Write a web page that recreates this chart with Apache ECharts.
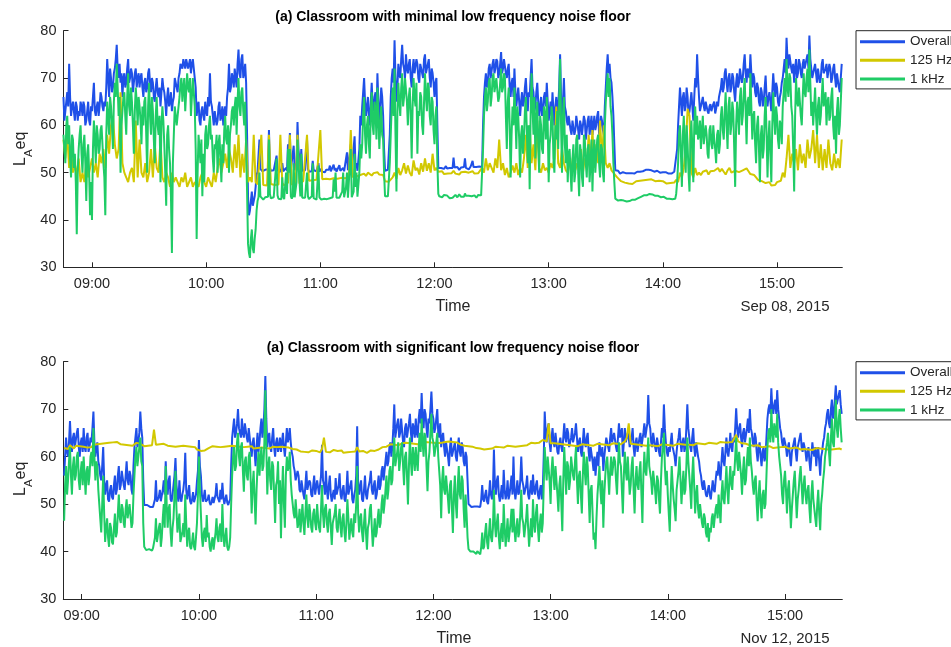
<!DOCTYPE html>
<html><head><meta charset="utf-8">
<script src="https://cdn.jsdelivr.net/npm/echarts@6/dist/echarts.min.js"></script>
<style>html,body{margin:0;padding:0;background:#fff}#c{width:951px;height:647px}</style>
</head><body><div id="c"></div>
<script>
// ---- time base (minutes since midnight) ----
const topStart = 525;      // 08:45
const bottomStart = 531;   // 08:51
const stepFine = 0.5;      // Overall and 1 kHz: one reading every 30 s
const stepCoarse = 1;      // 125 Hz: one reading per minute
const topRange = [525.03, 934.3];
const bottomRange = [530.58, 929.32];
const hourTicks = [540, 600, 660, 720, 780, 840, 900];
const yTicks = [30, 40, 50, 60, 70, 80];
const seriesNames = ['Overall', '125 Hz', '1 kHz'];
const titles = ['(a) Classroom with minimal low frequency noise floor', '(a) Classroom with significant low frequency noise floor'];
const dates = ['Sep 08, 2015', 'Nov 12, 2015'];

// ---- top: Sep 08, 2015 ----
const topOverall = [
66,61,63,65,67,64,73,66,62,64,65,63,61,65,64,61,63,62,65,64,
62,65,64,60,61,63,65,61,60,64,63,66,69,63,62,64,65,62,64,67,
66,64,63,65,64,68,74,70,66,72,70,67,68,71,72,74,77,72,70,73,
69,71,66,70,71,68,69,72,74,69,70,72,71,67,69,71,72,68,70,71,
68,70,71,68,66,69,70,67,68,71,72,69,67,70,69,66,65,68,70,67,
66,68,64,67,70,68,67,65,62,66,68,64,65,67,63,65,66,70,69,68,
67,70,71,73,73,72,74,73,72,74,74,72,73,74,71,73,74,72,72,68,
62,64,65,61,60,63,64,62,61,65,63,62,66,64,71,65,64,62,60,63,
63,60,61,64,65,61,62,64,60,63,64,62,66,68,73,67,68,71,70,68,
72,70,68,73,76,71,70,74,75,70,71,73,69,58,45,41,42,44,46,43,
44,45,47,49.5,50.2,50.5,57,50.8,50.5,50.3,50.1,50.4,50.6,50.2,50.3,50.7,59,51,50.4,50.1,
50.2,50.5,50.7,50.4,53.6,50.6,50.3,50.1,50.5,50.8,52,50.3,50.2,50.5,51,50.4,56,52,58.4,50.6,
50.3,51,55.7,50.5,50.4,52,60.7,55,53,50.6,55,50.4,50.3,50.6,50.5,50.2,57,50.8,50.2,50.5,
50.6,50.3,52.5,50.5,50.4,50.7,50.3,50.4,52,50.2,50.5,50.8,50.2,50.5,50.4,50.1,50.6,50.4,50.3,50.6,
51.5,50.3,50.4,50.6,51.7,50.5,51,50.2,50.3,50.6,51.6,50.4,50.4,50.7,51,50.3,50.3,50.6,54.3,50.5,
50.5,50.8,56,50.3,50.4,50.6,57.7,51,52,50.4,50.6,55,62,60,64,67,70,65,62,64,
66,62,60,65,69,64,63,66,67,62,71,65,61,64,68,66,62,55,50.4,50.7,
50.2,50.6,50.5,58,66,70,72,69,78,70,65,68,73,71,70,74,77,73,72,70,
75,72,71,73,74,70,68,72,74,71,71,74,73,70,69,73,72,71,70,74,
75,71,72,73,74,70,68,72,71,69,66,69,70,60,51,50.8,50.6,51,51.2,50.7,
50.8,51.1,51.4,50.9,50.7,51.2,51,50.8,51.3,51,53.2,51.1,50.9,51.3,51.2,50.8,50.6,51,51.1,50.9,
50.8,51.2,53,51,51,50.8,50.7,51.1,51.3,50.9,52.5,51.2,51,50.8,51.2,51,50.8,51.3,51,50.9,
51.2,60,66,69,71,68,69,72,73,70,70,73,74,71,72,74,73.5,70,71,73,
75.5,71,72,74,74,71,70,72,73,68,66,69,70,66,72,67,64,66,68,65,
62,65,67,64,65,68,70,66,63,67,66,70,74,68,67,63,64,67,69,65,
62,64,66,62,63,66,67,64,69,65,61,63,65,62,67,63,60,64,66,62,
64,68,75,66,62,65,70,64,63,61,60,62,62,59,58,61,61,58,59,62,
62,59,57,61,60,58,58,62,61,57,59,61,62,58,60,62,58,60,62,59,
60,62,63,58,59,62,61,59,58,64,68,72,75,71,73,70,69,66,62,56,
50.5,50.3,50.2,50.4,50,49.8,49.8,50,50.1,49.9,49.7,49.9,49.6,49.8,49.9,49.6,49.7,49.9,50,49.8,
49.8,50,50.1,50.2,50.3,50.1,50.2,50.4,50.5,50.3,50.3,50.5,50.6,50.4,50.4,50.6,50.2,50.3,50.5,50.2,
50.3,50.2,50.1,50.3,50.4,50.1,50.2,50,49.9,50.2,50.1,50.3,50.3,50.1,50,49.9,49.8,50,50.1,49.8,
49.9,50.1,50.2,50,50.5,55,60,64,68,65,62,66,67,63,64,68,66,62,63,65,
67,64,61,66,70,68,75,70,66,63,64,65,66,64,63,65,65,63,62.5,64,
64.5,63,63,64.5,65,62.5,63.5,65,64,66,66,68,70,67,68,71,72,69,67,70,
71,67,68,71,70,67,65,69,71,68,69,72,72,69,70,73,75,71,69,72,
72,70,75,71,68,71,70,67,66,69,68,65,64,68,67,64,65,68,70.5,66,
64,66,67,65,63,67,71,68,66,69,68,65,64,66,67,69,70,72,74,71,
78.5,74,72,75,75,72,71,73,69,72,74,70,71,74,73,71,70,73,74,72,
72,74,75,72,79,74,72,70,70,72,73,71,69,72,72,69,70,73,74,71,
71,72,73,70,70,73,72,69,70,72,73,70,68,71,71,68,67,70,73
];
const top125Hz = [
57,53,58,51,55,50,52,49,53,48,
50,48,52,49,51,53,50,52,49,54,
52,55,51,58,54,60,62,56,53,55,
67,52,50,49,48,50,51,48,61,49,
57,50,49,52,48,50,55,49,56,51,
50,57,49,48,50,49,47,50,48,49,
48,47,49,48,50,47,48,49,47,48,
48,47,49,50,48,47,49,48,47,50,
48,51,53,50,52,54,51,55,53,50,
56,51,58,49,54,50,57,48,49,48,
58,48,47.5,47.8,58,47.4,47.7,47.3,58,47.6,
47.8,47.4,47.7,47.5,58,47.8,47.3,47.6,47.9,58,
47.5,47.8,47.4,58,47.7,48,48.2,48.5,58,48.3,
48.6,48.4,48.7,48.5,48.8,59,48.6,48.9,48.7,48.9,
48.6,49,48.8,49,48.7,49.1,48.9,49,48.8,49.2,
49,59,49.1,48.9,49.2,49,49.5,49.5,49.8,49.3,
50,49.6,49.4,49.9,49.5,50.1,49.6,49.8,49.5,48.2,
47.9,48.1,48.5,49,50,48.7,51,49.5,50.5,52,
49.8,51.5,50,49.3,52.6,50.5,51,49.6,52,50.2,
53,50.4,52,50,54,50.5,51,50.2,49.9,50.3,
49.7,50.1,49.8,50.2,49.9,50.4,49.8,50,49.6,50.1,
49.7,50.2,49.9,50,49.7,50.3,49.8,50.1,49.9,50,
51,50,53,50.5,52,51,50,53,51,57,
50.5,52,49.5,51,49,50,51.5,50,52,49.5,
51,50,53,58,51,60,52,56,50.5,61,
51,50,52,50.5,51,50,52,51,53,64,
52,51,55,52,50.5,50,52,51,54,50.5,
52,51,55,50,53,51,58,52,59,51,
56,52,61,53,60,52,51,52,50.5,50,
49.5,49,48.6,48.2,48.4,47.9,48.1,47.7,48,47.6,
47.8,48.2,48.5,48.3,48.6,48.4,48.7,48.5,48.3,48.6,
48.4,48.2,48.5,48.3,48,48.2,47.9,47.7,47.5,47.8,
47.6,47.9,48.5,48,50,49,51,55,63.5,62,
50,49,51,49.5,50,49.5,50.2,49.8,50.5,49.6,
50.3,49.9,50.4,50,51,50.2,50.8,50.2,49.6,50.5,
51,50,49.7,50.4,50.8,50.1,49.8,50.5,50.2,50.9,
50.3,49.7,50.1,49.5,49,48.5,48.8,48.2,48.6,47.8,
47.5,48,47.3,47.7,47.4,48,47.6,48.3,50,49,
53,58,51,54,52,55,50.5,56,52,54,
51,57,53,55,59,52,58,51,56,50.5,
55,51,57,52,50.5,54,51,53,51,57
];
const top1kHz = [
58,55,52,60,62,56,60,53,49,58,57,51,54,48,37,50,55,58,60,54,
50,56,58,52,44,54,56,50,41,48,40,55,61,57,52,60,58,54,55,59,
60,56,52,49,41,58,65,62,58,66,64,60,55,65,69,66,73,68,62,66,
50,60,63,66,67,62,58,66,71,64,62,68,65,60,54,63,68,65,60,66,
64,61,56,64,60,65,66,58,50,64,69,62,58,66,63,57,52,62,66,60,
58,62,48,60,64,61,56,50,43,58,60,55,52,45,33,52,58,64,62,60,
60,64,66,69,70,65,68,70,63,67,71,68,67,70,62,66,70,67,64,55,
36,50,58,55,52,57,45,54,48,58,60,55,56,60,62,57,58,53,50,56,
55,58,50,56,58,53,48,56,52,59,62,57,56,60,50,58,60,63,64,60,
64,66,58,65,70,64,62,67,68,63,60,65,55,46,35,33,32,36,38,34,
33,36,38,42,44,44.8,50,45,44.6,44.9,44.3,44.6,44.8,44.4,44.5,44.9,57,45.5,44.6,44.3,
44.4,44.8,45,44.6,53,45.2,44.5,44.8,44.7,44.4,49,45,44.4,44.7,50,45.5,55,50,55,45,
44.5,45,52,44.8,44.6,48,57,52,52,45,54,44.7,44.5,44.9,44.7,44.4,50,45,44.4,44.8,
44.8,45,52,44.6,44.5,44.8,44.3,44.6,51.5,44.8,44.6,44.3,44.4,44.7,44.5,44.9,44.7,44.4,44.3,44.6,
44.6,44.4,44.5,44.8,48.6,46,50,44.7,44.4,44.6,44.7,44.4,44.5,46,50,44.8,44.6,47,50,44.7,
44.5,45,55,44.8,44.7,46,54,47,50,44.9,44.8,50,56,53,56,62,66,58,54,60,
62,56,53,63,67,60,58,65,63,57,68,62,55,60,64,58,57,50,45,45.2,
44.7,45,45.1,52,58,64,68,62,72,58,46,63,69,65,62,68,71,64,66,70,
70,65,60,66,68,62,53,64,70,66,64,69,54,63,62,67,66,60,58,65,
71,66,63,69,68,62,60,66,65,59,56,62,64,52,45.5,45,45.2,44.9,44.8,45.2,
45.3,45,44.9,45.2,45.1,44.8,44.6,45,45,44.7,44.7,45.1,45.3,44.9,44.8,45.2,45.4,45,44.9,45.3,
45.2,44.9,45.6,45.1,44.8,45.2,45.1,44.8,45.4,45,44.9,45.3,45.2,44.8,44.7,45.1,45.3,44.9,45,45.2,
45.4,55,62,66,68,63,65,69,70,64,66,70,71,67,67,70,70,65,66,69,
72,67,68,71,70,62,55,65,68,60,49,58,64,60,68,62,55,64,62,57,
49,58,60,54,57,63,66,59,52,60,46.5,62,71,64,58,66,53,61,65,56,
50,62,60,55,54,64,62,57,66,60,48,56,58,64,62,53,50,60,57,63,
55,65,74,60,50,62,66,56,52,58,48,54,55,50,46,53,56,48,50,57,
58,50,45,56,54,49,47,58,57,52,49,55,56,48,52,57,46,54,57,50,
50,57,58,52,49,56,55,50,48,60,65,68,71,66,70,64,62,58,52,48,
44.5,44.2,44.3,44.1,44,44.3,44.2,43.9,43.8,44.1,44.1,43.8,43.9,44.2,44.2,44,44,44.3,44.3,44,
44.1,44.3,44.4,44.5,44.6,44.7,44.8,44.9,45,45.1,45.2,45.3,45.4,45.2,45.3,45.5,45.5,45.3,45.2,45.4,
45.4,45.2,45.1,45.3,45.3,45.1,45,44.9,44.8,45,45.1,44.9,44.7,44.6,44.5,44.4,44.3,44.5,44.6,44.4,
44.4,44.6,44.7,44.5,45.5,48,52,58,60,54,47,58,62,56,50,60,56,50,46,57,
61,55,48,60,64,58,62,57,58,61,55,59,62,56,56,60,58,54,53,59,
60,56,55,60,57,55,52,58,59,54,56,62,64,59,57,63,67,60,55,64,
66,58,60,65,63,55,47,60,65,62,58,66,68,60,62,67,70,63,56,65,
66,62,71,64,57,62,63,56,52,60,62,55,48,58,60,53,55,62,66,58,
49,57,61,54,48,60,67,62,58,64,62,57,55,61,60,56,64,67,70,65,
74,68,66,71,70,64,62,55,46,62,70,65,64,68,68,62,60,66,71,67,
66,70,72,67,76,69,62,65,60,64,68,62,58,64,66,60,62,66,70,64,
64,67,60,65,66,61,62,66,68,60,57,62,54,63,66,58,60,65,70
];

// ---- bottom: Nov 12, 2015 ----
const bottomOverall = [
56,60,64,61,60,63,67.5,63,61,64,65,62,62,65,66,62,60,63,64,61,
66,62,61,64,65,61,62,64,63,66,69.5,63,60,62,63,59,58,56,55,58,
62,55,52,54,55,51,50.5,53,54,51.5,51,54,56,52,53,56,58,53,54,57,
57,54,53,56,59,55,54,57,56,53,52,58,62,64,66,62,63,65,69.5,66,
64,55,49.8,49.6,49.5,49.8,49.7,49.5,49.4,49.7,49.6,49.4,49.5,51,55,50.5,50.2,51.5,53,50.6,
51,53,55,52,59,54,52,55,56,51,50.5,52,54,56,59.7,54,52,50.5,55,51.5,
50.5,52,53,55,60.8,53,51,52.5,54,50.6,50,51,52.5,50.4,50.3,52,54.8,57,63.5,58,
56,52,50.5,51.5,53,50.5,50.2,51,52,50.3,49.8,50.5,51.5,50.2,50,52,54.4,51.5,51,50.4,
53,51,54.5,51.5,50,51,52,50.3,49.8,50.5,51,58,64,66,68,64,65,67,70,66,
66,64,68,65,64,67,67,64,63,66,66,62,60,63,64,61,58,62,65,61,
63,66,68,64,66,70,77,68,62,64,65,62,61,64,66,62,60,63,64,61,
62,64,61,63,65,62,60,63,66,63,64,66,63,61,60,58,57,55,55,57,
56,53,52.5,55,55,52,51,54,57,53,53,55,54.5,52,51.5,54,56,52,52,55,
55,52,52,56,62.5,55,54,52,57,53,51,54,56,52,50.5,52,53,51,55.5,52,
52,54,56.5,52,51,53,54,51,50.5,53,57,52,52,54,55,51,50.2,52,53,56,
66.4,54,52,54,55,51,50.5,53,56,52,51,53,53,55,57,53,52,54,55,51,
52,54,56,53,54,57,58,55,57,59,61,58,59,62,63,60,62,66,71,64,
64,67,68,64,65,68,68,63,62,66,67,64,64,67,69,65,63,67,66,64,
68,65,64,68,70,67,73.4,68,66,70,69,66,64,68,67,70,73.7,69,68,65,
66,68,70,65,64,67,62,64,65,62,60,63,63,60,58,62,64,60,61,62,
63,60,59,62,64,61,60,63,62,59,58,61,60,55,50,49.7,49.6,49.4,49.3,49.6,
49.5,49.3,49.2,49.5,49.6,49.3,49.4,51,54,51,50.5,52,53,50.5,50,52,55,52,51,53,
61.5,54,52,55,56,52,50.5,52,54,51,57.2,53,51,52,55,51,52,54,56,52,
60,53,51,53,55,52,52.5,55,60,55,54,52,52,54,56,52,51,53,55,52,
56.2,53,52,54,55,52,51,53,54,51,53,60,69.5,65,63,66,67,63,61,64,
66,63,62,65,65,61,60.5,63,64,62,61,64,67,64,63,66,65,62,62,64,
66,63,63,65,67,64,61,63,64,61,60,63,66,63,62,64,65,61,59,62,
62,59,57,60,56,59,61,58,63,61,60,62,57,60,62,64,64,62,61,64,
66,63,63,65,65,62,61,64,67,64,64,66,60,63,66,63,63,65,64,62,
62,64,66,62,60,63,64,61,61,64,65,62,62,65,67,64,64,67,73,67,
66,63,62,65,65,62,61,64,64,61,60,63,66,64,71,66,63,61,60,62,
61,63,65,62,62,60,58,61,63,64,66,63,61,63,64,61,62,66,71,66,
64,62,61,64,66,62,60,63,63,60,59,57,56,54,53,55,55,52,51.5,53,
54,52,51,53,55,53,52.5,55,57,56,59,57,55,59,62,59,58,61,64,61,
60,62,65,62,61,64,63,66,70.2,66,64,66,67,64,62,65,66,63,63,66,
68,65,70,66,65,63,62,65,64,61,59,62,63,60,58,61,62,59,60,64,
68,70,71,69,74.4,70,69,71,72,69,74,70,68,66,65,63,62,64,64,62,
60,62,63,60,58,61,61,63,64,61,59,62,62,64,65,62,61,63,63,61,
59,61,62,59,57,60,63,61,60,62,58,61,62,59,56,60,61,63,64,66,
67,69,70,67,66,70,72,68,69,72,75,71,71,73,74,71,69
];
const bottom125Hz = [
61.8,62.2,61.6,62.4,62,61.7,62.3,61.9,62.2,61.8,
62.1,62.4,61.9,62.3,62,62.5,62.2,62.6,62.3,62.7,
62.4,62.8,62.5,62.9,62.6,63,62.7,63.1,62.8,62.6,
62.9,62.5,62.8,62.4,62.7,62.3,62.6,62.9,62.5,62.7,
62.4,62.2,62.5,62.3,62.6,62.4,65.7,62.5,62.3,62.6,
62.4,62.7,62.5,62.3,62.6,62.2,62.5,62.1,62.4,62.2,
62,62.3,61.9,62.2,61.8,62.1,61.7,62,61.5,61.8,
61.2,61,61.3,61.5,61.8,62,62.2,61.9,62.1,61.8,
62,62.3,62.1,62.4,62.2,62,62.3,62.5,62.2,62.4,
62.1,62.3,62,61.8,62.1,61.9,62.2,61.7,62,61.8,
62,61.9,62.2,61.8,62,61.7,61.9,62.1,61.8,62,
61.9,62.1,61.8,62,61.7,61.9,62.3,61.6,61.8,61.5,
61.3,61.1,61.4,61,61.2,60.9,61.1,61.3,61,61.2,
61.1,60.9,61.6,64,61,61.3,60.9,61.1,61.4,61,
61.2,61,61.3,60.8,61.1,60.9,61.2,61,60.8,61.1,
62,61.1,60.9,61.2,61,60.8,61.1,61.3,61,61.2,
61.3,61.5,61.8,62,62.3,62.1,62.4,62.6,62.3,62.5,
62.7,62.4,62.6,62.8,62.5,62.9,62.6,62.8,62.5,62.7,
62.9,62.6,62.8,63,62.7,63.1,62.8,63,62.7,62.9,
63,62.8,63.2,62.9,63.3,63.1,63.4,63.2,63.5,63.1,
63.3,63,62.8,62.5,62.7,62.3,62.5,62.2,62.4,62.1,
62,61.8,62.1,61.7,61.9,61.5,61.8,61.6,61.9,61.7,
61.9,62.1,61.8,62,62.2,61.9,62.1,62.3,62,62.2,
62.3,62.1,62.4,62.2,62.5,62.3,62.6,62.4,62.7,62.9,
63,62.8,63.1,62.9,63.3,63.5,63.9,63.2,67,62.8,
62.6,62.8,62.5,62.7,62.4,62.6,62.3,62.5,62.7,62.4,
62.6,62.3,62.5,62.2,62.4,62.6,62.3,62.5,62.2,62.4,
62.6,62.3,62.5,62.7,62.4,62.6,62.8,62.5,62.7,62.4,
62.6,62.8,62.5,62.7,62.4,62.6,62.9,63.2,64,67,
62.7,62.4,62.6,62.3,62.5,62.7,62.4,62.6,62.3,62.5,
62.4,62.6,62.3,62.5,62.2,62.4,62.6,62.3,62.5,62.2,
62.4,62.6,62.3,62.5,62.7,62.4,62.6,62.8,62.5,62.7,
62.5,62.7,62.4,62.6,62.8,62.5,62.7,62.9,62.6,62.8,
62.9,62.6,62.8,63,62.7,62.9,63.1,62.8,63,63.2,
63,63.3,63.1,63.4,64.6,63.2,63,62.8,62.9,62.7,
62.6,62.4,62.5,62.3,62.1,62.4,62.2,62,62.3,62.1,
61.9,62.2,62,61.8,62.1,61.9,62.2,62,61.8,62.1,
61.9,61.7,62,61.8,61.6,61.9,61.7,61.5,61.8,61.6,
61.8,61.5,61.7,61.4,61.6,61.8,61.5,61.7,61.4,61.6,
61.8,61.5,61.7,61.5,61.8,61.6,61.4,61.7,61.5
];
const bottom1kHz = [
46.5,54,58,52,55,59,62,56,52,58,60,55,56,60,61,55,53,57,59,54,
60,56,52,57,58,54,56,60,61,58,66,60,55,59,58,53,50,47,44,50,
56,48,42,45,47,43,41,46,45,42,41.5,45,48,43,44,48,52,47,46,50,
49,46,45,49,51,47,47,50,50,45,46,52,56,60,62,58,58,62,64,59,
58,46,41,40.6,40.3,40.1,40,40.5,40.6,40.2,40.2,40.7,40.8,43,47,42,42,45,46,41,
43,47,50,45,58,50,45,49,50,44,41,45,47,52,57,49,44,46,48,42,
42,44,46,43,52,46,41,44,45,41,40.5,42,44,41,40.3,43,46,52,60,53,
48,43,41,44,45,42,47.7,43,44,41,40,42,43,40.4,40.5,44,47,43,42,45,
45.9,42,50,44,41,43,45,41,40.2,41,43,50,56,60,62,57,58,63,65,60,
58,62,63,57,52.6,59,60,56,55,60,61,55,48,54,57,51,45.7,53,58,61,
56,60,62,57,58,63,74,62,52,58,60,55,53,59,58,52,46,54,55,59,
50,55,42.8,52,58,50,45,56,60,57,58,61,55,52,50,48,47,51,48,45,
46,49,44,47,50,46,43.5,48,52,47,45,50,48,45,44,48,49,46,44.5,50,
47,45,44,49,54,48,45,49,50,46,44,48,49,45,41.4,46,46,48,50,45,
44,47,49,45,43,47,48,44,42,46,51,47,42.5,45,47,44,43,48,46,50,
58,48,44,47,48,44,42,46,49,44,40.4,45,46,49,50,45,41,44,47,43,
44,47,49,45,46,50,52,48,50,53,56,51,53,57,58,54,55,60,64,58,
58,61,63,57,59,62,63,58,54,60,61,56,49.9,58,64,59,56,62,60,57,
62,59,57,62,65,61,68,63,60,65,64,58,52.7,59,61,65,69,64,63,60,
60,63,65,60,57,54,47,55,58,53,52,56,56,51,48,54,55,49,43.9,52,
56,50,47,54,58,52,51,56,55,49,45,52,48,43,40.5,40.2,40,39.8,39.6,40,
40.2,39.8,39.5,40.1,40,39.7,39.4,41,44,40.5,41,44,46,42,40.5,44,47,43,42,45,
53,46,43,46,48,43,40.5,44,46,42,50,45,41,44,47,42,42,46,49,44,
49,45,42,45,47,43,44,48,53,47,46,43,43,47,50,45,41,44,47,43,
51,46,44,48,50,45,42,46,48,44,46,54,62,58,55,60,60,55,50,57,
60,56,53,58,58,52,48.4,54,56,50,44.3,55,62,57,52,59,58,53,55,60,
60,56,55,59,62,55,50,56,57,52,48,56,61,57,54,60,58,52,46,53,
54,48,42.5,44,40.5,47,52,55,58,53,50,55,45,52,56,59,60,56,52,57,
60,56,56,60,59,55,52,58,63,59,58,53,48,56,61,57,55,60,56,52,
54,58,60,53,48,55,58,54,53,57,59,52,46,56,61,57,56,60,64,58,
58,55,52,57,57,53,50,56,55,51,48,55,60,62,65,58,54,57,52,48,
44.2,52,58,54,51,49,46.4,53,55,57,60,55,50,54,57,52,53,58,64,59,
56,53,49,56,60,54,48,52,54,49,47,50,48,46,45,48,47,44,43,46,
42.1,45,44,47,48,45,45,49,50,47,52,49,46,52,55,51,50,54,58,53,
50,55,58,54,53,57,56,60,64,59,57,61,61,56,52,57,60,54,55,59,
62,58,64,59,57,54,52,55,56,50,46.4,52,55,50,47,52,53,49,50,56,
62,65,66,63,70,65,63,67,67,64,69,63,60,58,56,52,50,55,57,53,
48,53,55,50,44.9,49,52,55,57,52,47,51,53,56,58,54,50,54,56,52,
50,53,54,49,46,52,55,51,49,47,45.2,50,53,48,44.5,50,52,55,57,60,
60,63,65,61,58,64,68,63,62,67,72,66,64,68,70,66,63
];

// ---- styling ----
const colors = ['#1f50e8', '#d2c800', '#1fcc66'];
const FONT = '"Liberation Sans", Arial, Helvetica, sans-serif';
const AX = '#262626';
const grids = [
  {left: 63.5, top: 30.7, width: 778.8, height: 236.6},
  {left: 63.3, top: 361.7, width: 779, height: 237.3}
];

function pairs(arr, start, step) { return arr.map((v, i) => [start + i * step, v]); }
function hhmm(v) {
  const h = Math.floor(v / 60), m = Math.round(v - h * 60);
  return String(h).padStart(2, '0') + ':' + String(m).padStart(2, '0');
}
function xAxis(i, range) {
  return {
    type: 'value', gridIndex: i, min: range[0], max: range[1],
    axisLine: {show: true, onZero: false, lineStyle: {color: AX, width: 1}},
    axisTick: {show: true, inside: true, length: 5, customValues: hourTicks, lineStyle: {color: AX}},
    axisLabel: {customValues: hourTicks, formatter: hhmm, color: AX, fontSize: 14.5, fontFamily: FONT, margin: 9},
    splitLine: {show: false}
  };
}
function yAxis(i) {
  return {
    type: 'value', gridIndex: i, min: yTicks[0], max: yTicks[yTicks.length - 1], interval: 10,
    axisLine: {show: true, onZero: false, lineStyle: {color: AX, width: 1}},
    axisTick: {show: true, inside: true, length: 5, lineStyle: {color: AX}},
    axisLabel: {color: AX, fontSize: 14.5, fontFamily: FONT, margin: 7},
    splitLine: {show: false}
  };
}
function line(name, data, start, step, idx, color) {
  return {
    name, type: 'line', xAxisIndex: idx, yAxisIndex: idx, data: pairs(data, start, step),
    showSymbol: false, symbol: 'none', color: color,
    lineStyle: {color: color, width: 2}, emphasis: {disabled: true}, silent: true
  };
}
function legend(top) {
  return {
    data: seriesNames, orient: 'vertical', left: 856, top: top,
    icon: 'rect', itemWidth: 45, itemHeight: 3, itemGap: 4.6,
    padding: [4, 40, 3, 4], borderColor: AX, borderWidth: 1, backgroundColor: '#fff',
    textStyle: {fontSize: 13.5, lineHeight: 14, color: AX, fontFamily: FONT},
    selectedMode: false
  };
}
function yLabel(cx, cy) {
  return {
    type: 'group', x: cx, y: cy, rotation: Math.PI / 2,
    children: [
      {type: 'text', x: -17, y: 0, style: {text: 'L', fontSize: 16, fontFamily: FONT, fill: AX, verticalAlign: 'middle', align: 'left'}},
      {type: 'text', x: -8, y: 8, style: {text: 'A', fontSize: 11.5, fontFamily: FONT, fill: AX, verticalAlign: 'middle', align: 'left'}},
      {type: 'text', x: -0.5, y: 0, style: {text: 'eq', fontSize: 16, fontFamily: FONT, fill: AX, verticalAlign: 'middle', align: 'left'}}
    ]
  };
}
function txt(text, x, y, size, bold, color) {
  return {type: 'text', x: x, y: y, style: {text: text, fontSize: size, fontWeight: bold ? 'bold' : 'normal', fontFamily: FONT, fill: color || AX, align: 'center', verticalAlign: 'middle'}};
}

const chart = echarts.init(document.getElementById('c'), null, {renderer: 'canvas'});
chart.setOption({
  animation: false,
  backgroundColor: '#fff',
  grid: grids,
  xAxis: [xAxis(0, topRange), xAxis(1, bottomRange)],
  yAxis: [yAxis(0), yAxis(1)],
  legend: [legend(30.7), legend(361.7)],
  series: [
    line(seriesNames[0], topOverall, topStart, stepFine, 0, colors[0]),
    line(seriesNames[1], top125Hz, topStart, stepCoarse, 0, colors[1]),
    line(seriesNames[2], top1kHz, topStart, stepFine, 0, colors[2]),
    line(seriesNames[0], bottomOverall, bottomStart, stepFine, 1, colors[0]),
    line(seriesNames[1], bottom125Hz, bottomStart, stepCoarse, 1, colors[1]),
    line(seriesNames[2], bottom1kHz, bottomStart, stepFine, 1, colors[2])
  ],
  graphic: [
    txt(titles[0], 453, 17, 14, true, '#000'),
    txt(titles[1], 453, 348.5, 14, true, '#000'),
    txt('Time', 453, 307, 16, false),
    txt('Time', 454, 638.5, 16, false),
    txt(dates[0], 785, 307, 15, false),
    txt(dates[1], 785, 638.5, 15, false),
    yLabel(21, 149),
    yLabel(21, 479)
  ]
});
</script></body></html>
